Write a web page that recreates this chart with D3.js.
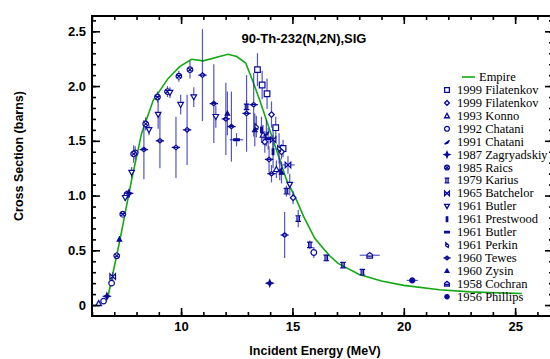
<!DOCTYPE html>
<html>
<head>
<meta charset="utf-8">
<script src="https://cdn.jsdelivr.net/npm/d3@7"></script>
<style>
  body { margin: 0; background: #fff; }
  svg { display: block; }
</style>
</head>
<body>
<svg id="chart" width="550" height="359"></svg>
<script>
// Empire evaluation [energy MeV, cross section b]
const empire = [
  [6.70, 0.06], [7.26, 0.60], [7.78, 1.145], [8.23, 1.57], [8.75, 1.87],
  [9.42, 2.07], [9.95, 2.18], [10.47, 2.245], [11.0, 2.23], [12.1, 2.29],
  [12.5, 2.27], [12.9, 2.21], [13.23, 2.04], [13.55, 1.86], [14.13, 1.51],
  [14.73, 1.145], [15.18, 0.96], [15.5, 0.81], [16.0, 0.61], [16.67, 0.45],
  [17.05, 0.38], [18.0, 0.28], [19.0, 0.22], [20.0, 0.18], [21.6, 0.14],
  [23.0, 0.12], [25.3, 0.105]
];

// experimental sets: [E, sigma, dSigma, dE]
const filatenkovSq = [[13.43, 2.15, 0.15, 0], [13.64, 2.01, 0.13, 0], [13.86, 1.93, 0.14, 0], [14.25, 1.62, 0.10, 0], [14.58, 1.43, 0.08, 0]];
const filatenkovDi = [[14.06, 1.74, 0.12, 0], [14.51, 1.40, 0.07, 0], [15.03, 0.98, 0.06, 0], [13.76, 1.49, 0.10, 0]];
const konno = [[6.30, 0.015, 0, 0], [13.68, 1.555, 0.09, 0], [14.28, 1.24, 0.08, 0]];
const chatani92 = [[6.52, 0.036, 0.02, 0], [6.88, 0.20, 0.03, 0], [7.57, 1.01, 0.04, 0], [7.94, 1.39, 0.06, 0], [15.96, 0.48, 0.05, 0]];
const chatani91 = [[13.83, 1.57, 0.12, 0], [14.43, 1.24, 0.10, 0]];
const zagryadskiy = [[6.67, 0.08, 0.02, 0], [7.66, 1.02, 0.04, 0], [13.98, 0.20, 0.01, 0]];
const raics = [[7.11, 0.45, 0.03, 0], [7.38, 0.83, 0.03, 0], [7.87, 1.38, 0.08, 0], [8.41, 1.655, 0.06, 0], [8.94, 1.90, 0.05, 0], [9.39, 1.95, 0.05, 0], [9.90, 2.09, 0.05, 0], [10.40, 2.15, 0.08, 0]];
const karius = [[12.94, 1.81, 0.06, 0], [14.73, 1.04, 0.05, 0], [15.26, 0.79, 0.08, 0], [15.78, 0.55, 0.04, 0], [16.52, 0.43, 0.03, 0], [17.27, 0.365, 0.02, 0], [18.14, 0.30, 0.02, 0]];
const batchelor = [[6.93, 0.26, 0.04, 0], [14.80, 1.28, 0.08, 0.3], [14.13, 1.51, 0.12, 0]];
const butler = [[7.49, 0.98, 0.03, 0], [7.78, 1.21, 0.05, 0], [8.56, 1.60, 0.05, 0], [8.97, 1.74, 0.13, 0], [9.50, 1.94, 0.05, 0], [9.98, 1.83, 0.09, 0], [10.57, 1.90, 0.09, 0], [11.56, 1.72, 0.10, 0], [14.88, 1.10, 0.10, 0]];
const prestwood = [[13.61, 1.60, 0.12, 0], [14.13, 1.40, 0.15, 0]];
const butlerH = [[12.49, 1.51, 0.06, 0.3], [13.91, 1.52, 0.10, 0]];
const perkin = [[13.38, 1.63, 0.10, 0], [14.40, 1.43, 0.14, 0]];
const tewes = [[8.33, 1.42, 0.27, 0], [9.05, 1.50, 0.25, 0], [9.77, 1.44, 0.28, 0], [10.27, 1.60, 0.32, 0], [10.96, 2.10, 0.42, 0], [11.47, 1.84, 0.36, 0], [12.01, 1.70, 0.33, 0], [12.26, 1.63, 0.32, 0], [12.94, 1.75, 0.35, 0], [13.26, 1.83, 0.29, 0], [13.95, 1.33, 0.12, 0], [14.06, 1.20, 0.08, 0], [14.65, 0.64, 0.21, 0]];
const zysin = [[7.23, 0.60, 0.03, 0], [12.08, 1.75, 0.20, 0], [13.31, 1.60, 0.15, 0], [14.51, 1.21, 0.10, 0]];
const cochran = [[18.47, 0.455, 0.02, 0.45]];
const phillips = [[20.38, 0.225, 0.01, 0.25]];

const seriesNames = ["1999 Filatenkov", "1999 Filatenkov", "1993 Konno", "1992 Chatani", "1991 Chatani",
  "1987 Zagryadskiy", "1985 Raics", "1979 Karius", "1965 Batchelor", "1961 Butler", "1961 Prestwood",
  "1961 Butler", "1961 Perkin", "1960 Tewes", "1960 Zysin", "1958 Cochran", "1956 Phillips"];
const seriesData = [filatenkovSq, filatenkovDi, konno, chatani92, chatani91, zagryadskiy, raics, karius,
  batchelor, butler, prestwood, butlerH, perkin, tewes, zysin, cochran, phillips];
const seriesShape = ["square", "diamond", "triUp", "circle", "feather", "star4", "circleX", "karius",
  "bowtie", "triDown", "vbar", "hbar", "perkin", "tewes", "zysin", "house", "dot"];

const xMajor = [10, 15, 20, 25];
const yMajor = [0, 0.5, 1.0, 1.5, 2.0, 2.5];

const mLeft = 92, mRight = 553, mTop = 16, mBottom = 316;
const navy = "#0a0a9c";

const x = d3.scaleLinear().domain([6, 26.7]).range([mLeft, mRight]);
const y = d3.scaleLinear().domain([-0.1, 2.64]).range([mBottom, mTop]);

const svg = d3.select("#chart");

// symbol path, centered at 0,0, half-size s
function shape(type, s) {
  const p = d3.path();
  switch (type) {
    case "square": return `M${-s},${-s}H${s}V${s}H${-s}Z`;
    case "diamond": return `M0,${-s}L${s},0L0,${s}L${-s},0Z`;
    case "triUp": return `M0,${-s}L${s},${s * 0.8}L${-s},${s * 0.8}Z`;
    case "triDown": return `M${-s},${-s * 0.8}L${s},${-s * 0.8}L0,${s}Z`;
    case "circle": p.arc(0, 0, s, 0, 2 * Math.PI); return p.toString();
    case "dot": p.arc(0, 0, s * 0.9, 0, 2 * Math.PI); return p.toString();
    case "feather": return `M${-s},${s}L${s},${-s * 0.6}L${s * 0.3},${s * 0.6}Z`;
    case "star4": return `M0,${-s * 1.2}L${s * 0.35},${-s * 0.35}L${s * 1.2},0L${s * 0.35},${s * 0.35}L0,${s * 1.2}L${-s * 0.35},${s * 0.35}L${-s * 1.2},0L${-s * 0.35},${-s * 0.35}Z`;
    case "circleX":
      p.arc(0, 0, s, 0, 2 * Math.PI);
      return p.toString() + `M${-s * 0.7},${-s * 0.7}L${s * 0.7},${s * 0.7}M${s * 0.7},${-s * 0.7}L${-s * 0.7},${s * 0.7}`;
    case "karius": return `M${-s},${-s}H${s}M${-s},${s}H${s}M${-s * 0.45},${-s}V${s}M${s * 0.45},${-s}V${s}`;
    case "bowtie": return `M${-s},${-s}V${s}L${s},${-s}V${s}Z`;
    case "vbar": return `M${-s * 0.3},${-s}H${s * 0.3}V${s}H${-s * 0.3}Z`;
    case "hbar": return `M${-s},${-s * 0.3}H${s}V${s * 0.3}H${-s}Z`;
    case "perkin": return `M${-s * 0.5},${-s}L${s * 0.7},${s * 0.1}L${s * 0.5},${s}L${-s * 0.5},${s * 0.4}Z`;
    case "tewes": return `M${-s * 1.5},0H${s * 1.5}M${-s},0L0,${-s * 0.8}L${s},0L0,${s * 0.8}Z`;
    case "zysin": return `M0,${-s * 0.8}L${s * 0.8},${s * 0.6}L${-s * 0.8},${s * 0.6}Z`;
    case "house": return `M${-s},${s}V${-s * 0.2}L0,${-s}L${s},${-s * 0.2}V${s}ZM${-s},${s * 0.3}H${s}`;
  }
}
const filled = new Set(["star4", "vbar", "hbar", "dot", "zysin"]);

// clip for plot area
svg.append("clipPath").attr("id", "plotClip")
  .append("rect").attr("x", mLeft).attr("y", mTop).attr("width", mRight - mLeft).attr("height", mBottom - mTop);

const plot = svg.append("g").attr("clip-path", "url(#plotClip)");

// Empire curve
plot.append("path")
  .datum(empire)
  .attr("fill", "none")
  .attr("stroke", "#12a812")
  .attr("stroke-width", 1.6)
  .attr("d", d3.line().x(d => x(d[0])).y(d => y(d[1])));

// error bars
const errG = plot.append("g")
  .attr("stroke", "#2a2ab8")
  .attr("stroke-opacity", 0.8)
  .attr("stroke-width", 1.2);
seriesData.forEach(data => {
  data.forEach(d => {
    if (d[2] > 0) {
      errG.append("line")
        .attr("x1", x(d[0])).attr("x2", x(d[0]))
        .attr("y1", y(d[1] - d[2])).attr("y2", y(d[1] + d[2]));
    }
    if (d[3] > 0) {
      errG.append("line")
        .attr("x1", x(d[0] - d[3])).attr("x2", x(d[0] + d[3]))
        .attr("y1", y(d[1])).attr("y2", y(d[1]));
    }
  });
});

// symbols
seriesData.forEach((data, i) => {
  const t = seriesShape[i];
  plot.append("g").selectAll("path")
    .data(data)
    .join("path")
    .attr("transform", d => `translate(${x(d[0])},${y(d[1])})`)
    .attr("d", shape(t, 2.8))
    .attr("fill", filled.has(t) ? navy : "#fff")
    .attr("stroke", navy)
    .attr("stroke-width", 1.2);
});

// frame
svg.append("rect")
  .attr("x", mLeft).attr("y", mTop)
  .attr("width", mRight - mLeft).attr("height", mBottom - mTop)
  .attr("fill", "none").attr("stroke", "#000").attr("stroke-width", 2);

const tickFont = g => g.selectAll("text")
  .attr("font-family", "Liberation Sans, Arial, sans-serif")
  .attr("font-weight", "bold")
  .attr("font-size", 13)
  .attr("fill", "#000");
const clean = g => { g.select(".domain").remove(); g.selectAll("line").attr("stroke", "#000").attr("stroke-width", 1.6); };

const xMinor = d3.range(6, 27, 1);
const yMinor = d3.range(0, 2.61, 0.1).map(v => +v.toFixed(1));

// bottom axis
svg.append("g").attr("transform", `translate(0,${mBottom})`)
  .call(d3.axisBottom(x).tickValues(xMinor).tickSize(-4).tickFormat(""))
  .call(clean);
svg.append("g").attr("transform", `translate(0,${mBottom})`)
  .call(d3.axisBottom(x).tickValues(xMajor).tickSize(-8).tickPadding(6).tickFormat(d3.format("d")))
  .call(clean).call(tickFont);
// top axis
svg.append("g").attr("transform", `translate(0,${mTop})`)
  .call(d3.axisTop(x).tickValues(xMinor).tickSize(-4).tickFormat(""))
  .call(clean);
svg.append("g").attr("transform", `translate(0,${mTop})`)
  .call(d3.axisTop(x).tickValues(xMajor).tickSize(-8).tickFormat(""))
  .call(clean);
// left axis
svg.append("g").attr("transform", `translate(${mLeft},0)`)
  .call(d3.axisLeft(y).tickValues(yMinor).tickSize(-4).tickFormat(""))
  .call(clean);
svg.append("g").attr("transform", `translate(${mLeft},0)`)
  .call(d3.axisLeft(y).tickValues(yMajor).tickSize(-8).tickPadding(6).tickFormat(d => d === 0 ? "0" : d.toFixed(1)))
  .call(clean).call(tickFont);
// right axis
svg.append("g").attr("transform", `translate(${mRight},0)`)
  .call(d3.axisRight(y).tickValues(yMinor).tickSize(-4).tickFormat(""))
  .call(clean);
svg.append("g").attr("transform", `translate(${mRight},0)`)
  .call(d3.axisRight(y).tickValues(yMajor).tickSize(-8).tickFormat(""))
  .call(clean);

// titles
svg.append("text")
  .attr("x", 304).attr("y", 43)
  .attr("text-anchor", "middle")
  .attr("font-family", "Liberation Sans, Arial, sans-serif")
  .attr("font-weight", "bold").attr("font-size", 13)
  .text("90-Th-232(N,2N),SIG");

svg.append("text")
  .attr("x", 315).attr("y", 355)
  .attr("text-anchor", "middle")
  .attr("font-family", "Liberation Sans, Arial, sans-serif")
  .attr("font-weight", "bold").attr("font-size", 12.5)
  .text("Incident Energy (MeV)");

svg.append("text")
  .attr("transform", "translate(23,156) rotate(-90)")
  .attr("text-anchor", "middle")
  .attr("font-family", "Liberation Sans, Arial, sans-serif")
  .attr("font-weight", "bold").attr("font-size", 12.5)
  .text("Cross Section (barns)");

// legend
const legend = svg.append("g")
  .attr("font-family", "Liberation Serif, Times New Roman, serif")
  .attr("font-size", 12.5);
legend.append("line")
  .attr("x1", 462).attr("x2", 475).attr("y1", 77).attr("y2", 77)
  .attr("stroke", "#12a812").attr("stroke-width", 1.6);
legend.append("text").attr("x", 479).attr("y", 81).text("Empire");

seriesNames.forEach((name, i) => {
  const cy = 90 + i * 12.92;
  const t = seriesShape[i];
  legend.append("path")
    .attr("transform", `translate(447,${cy})`)
    .attr("d", shape(t, 2.4))
    .attr("fill", filled.has(t) ? navy : "#fff")
    .attr("stroke", navy)
    .attr("stroke-width", 1.3);
  legend.append("text").attr("x", 457).attr("y", cy + 4).text(name);
});
</script>
</body>
</html>
